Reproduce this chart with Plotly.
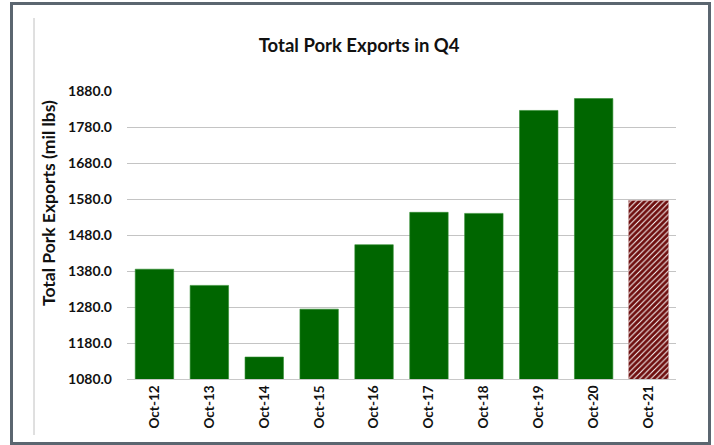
import plotly.graph_objects as go

categories = ["Oct-12", "Oct-13", "Oct-14", "Oct-15", "Oct-16", "Oct-17", "Oct-18", "Oct-19", "Oct-20", "Oct-21"]
exports = [1385, 1340, 1141, 1274, 1453, 1543, 1540, 1826, 1859, 1576]
tick_vals = [1080, 1180, 1280, 1380, 1480, 1580, 1680, 1780, 1880]
tick_text = ["1080.0", "1180.0", "1280.0", "1380.0", "1480.0", "1580.0", "1680.0", "1780.0", "1880.0"]

W, H = 714, 445
L, R, T, B = 127, 38, 91, 66
PW = W - L - R
PH = H - T - B

def px(x):
    return (x - L) / PW

def py(y):
    return (H - B - y) / PH

green = "#006600"
red = "#6e0e0e"

fig = go.Figure()
fig.add_trace(go.Bar(
    x=categories[:-1], y=exports[:-1],
    marker=dict(color=green, line=dict(color="#2e8b2e", width=0.6)),
    width=0.70, showlegend=False,
))
fig.add_trace(go.Bar(
    x=categories[-1:], y=exports[-1:],
    marker=dict(color="white", line=dict(color="#c9a0a0", width=0.5),
                pattern=dict(shape="/", fgcolor=red, fgopacity=1, bgcolor="white",
                             size=4, solidity=0.75)),
    width=0.73, showlegend=False,
))

font = "Lato, Calibri, Carlito, sans-serif"

fig.update_layout(
    width=W, height=H,
    margin=dict(l=L, r=R, t=T, b=B, autoexpand=False),
    paper_bgcolor="white", plot_bgcolor="white",
    barmode="overlay",
    title=dict(text="<b>Total Pork Exports in Q4</b>", x=0.503, xanchor="center",
               y=1 - 46 / H, yanchor="middle", yref="container",
               font=dict(family=font, size=18.5, color="#111111")),
    xaxis=dict(categoryorder="array", categoryarray=categories,
               tickangle=-90, ticks="", showgrid=False,
               showline=True, linecolor="#c8c8c8", linewidth=1,
               tickfont=dict(family=font, size=13.5, color="#111111"),
               automargin=False),
    yaxis=dict(range=[1080, 1880], tickvals=tick_vals, ticktext=[f"<b>{t}</b>" for t in tick_text],
               showgrid=True, gridcolor="#c4c4c4", gridwidth=1, zeroline=False,
               ticks="", ticklabelstandoff=14,
               tickfont=dict(family=font, size=14, color="#111111"),
               automargin=False),
    font=dict(family=font),
)
fig.update_xaxes(ticktext=[f"<b>{c}</b>" for c in categories], tickvals=categories)

fig.add_annotation(
    text="<b>Total Pork Exports (mil lbs)</b>", textangle=-90,
    xref="paper", yref="paper", x=px(48), y=py(203),
    xanchor="center", yanchor="middle", showarrow=False,
    font=dict(family=font, size=17.5, color="#111111"),
)

# outer frame
fig.add_shape(type="rect", xref="paper", yref="paper",
              x0=px(11.5), x1=px(709.5), y0=py(443.5), y1=py(3.5),
              line=dict(color="#5b6670", width=3), layer="above")
# chart area left border
fig.add_shape(type="line", xref="paper", yref="paper",
              x0=px(34), x1=px(34), y0=py(435), y1=py(18),
              line=dict(color="#c0c0c0", width=1))

fig.write_html("out.html", config={"displayModeBar": False},
               post_script="document.body.style.margin='0';")
